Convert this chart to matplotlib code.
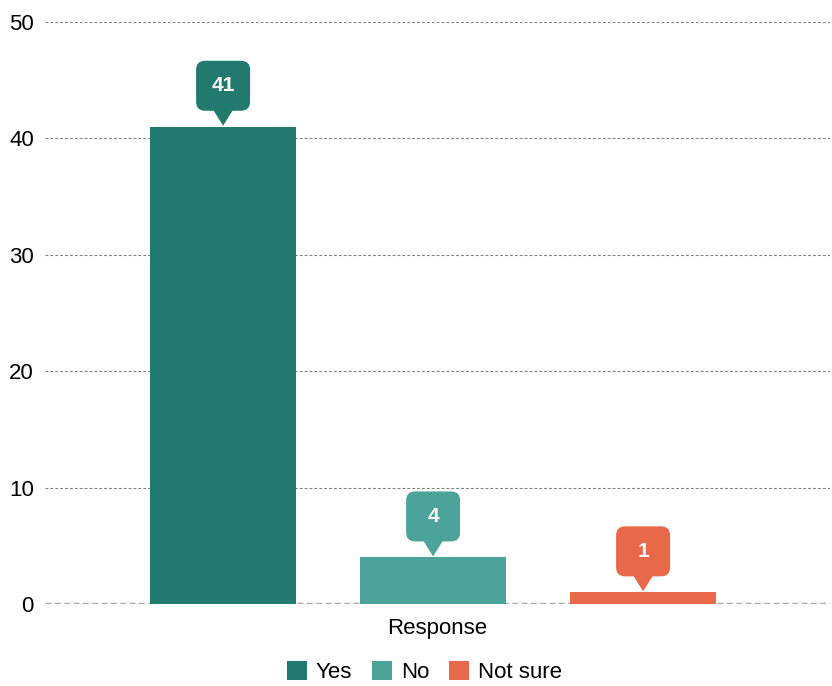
import matplotlib
matplotlib.use('Agg')
import matplotlib.pyplot as plt
from matplotlib.patches import FancyBboxPatch, Polygon, Patch
from matplotlib.transforms import IdentityTransform

# Data
categories = ['Yes', 'No', 'Not sure']
values = [41, 4, 1]
colors = ['#227a6f', '#4ba39a', '#e8694a']
y_ticks = [0, 10, 20, 30, 40, 50]

plt.rcParams['font.family'] = ['Liberation Sans', 'DejaVu Sans']

fig = plt.figure(figsize=(8.32, 6.86), dpi=100)
ax = fig.add_axes([45 / 832, 1 - 604 / 686, 785 / 832, 582 / 686])

x = list(range(len(categories)))
ax.bar(x, values, width=0.695, color=colors, zorder=2)

ax.set_xlim(-0.848, 2.890)
ax.set_ylim(0, 50)
ax.set_yticks(y_ticks)
ax.set_xticks([])
ax.tick_params(axis='y', length=0, labelsize=16, pad=8)
for s in ax.spines.values():
    s.set_visible(False)

# grid lines
for t in y_ticks[1:]:
    ax.axhline(t, color='#808080', lw=0.8, ls=(0, (2.6, 1.8)), zorder=1)
ax.axhline(0, color='#a8a8a8', lw=2.4, ls=(0, (1.8, 1.0)), zorder=1)

ax.set_xlabel('Response', fontsize=16, labelpad=10)

# callout labels (drawn in pixels)
bw, bh, gap, r = 54, 50, 16, 9
for xi, v, c in zip(x, values, colors):
    px, py = ax.transData.transform((xi, v))
    tip = py + 1
    base = py + gap
    box = FancyBboxPatch((px - bw / 2, base), bw, bh,
                         boxstyle='round,pad=0,rounding_size=%d' % r,
                         transform=IdentityTransform(), color=c, lw=0,
                         clip_on=False, zorder=4)
    fig.patches.append(box)
    tri = Polygon([(px - 10, base + 1), (px + 10, base + 1), (px, tip)],
                  closed=True, transform=IdentityTransform(), color=c, lw=0,
                  clip_on=False, zorder=4)
    fig.patches.append(tri)
    fig.text(px / 832, (base + bh / 2) / 686, str(v), color='white',
             fontsize=15, fontweight='bold', ha='center', va='center', zorder=5)

handles = [Patch(facecolor=c, edgecolor='none', label=l) for c, l in zip(colors, categories)]
fig.legend(handles=handles, loc='center', bbox_to_anchor=(0.51, 0.02), ncol=3,
           frameon=False, fontsize=16, handlelength=0.9, handleheight=0.9,
           handletextpad=0.4, columnspacing=0.9)

fig.savefig('out.png', dpi=100)
